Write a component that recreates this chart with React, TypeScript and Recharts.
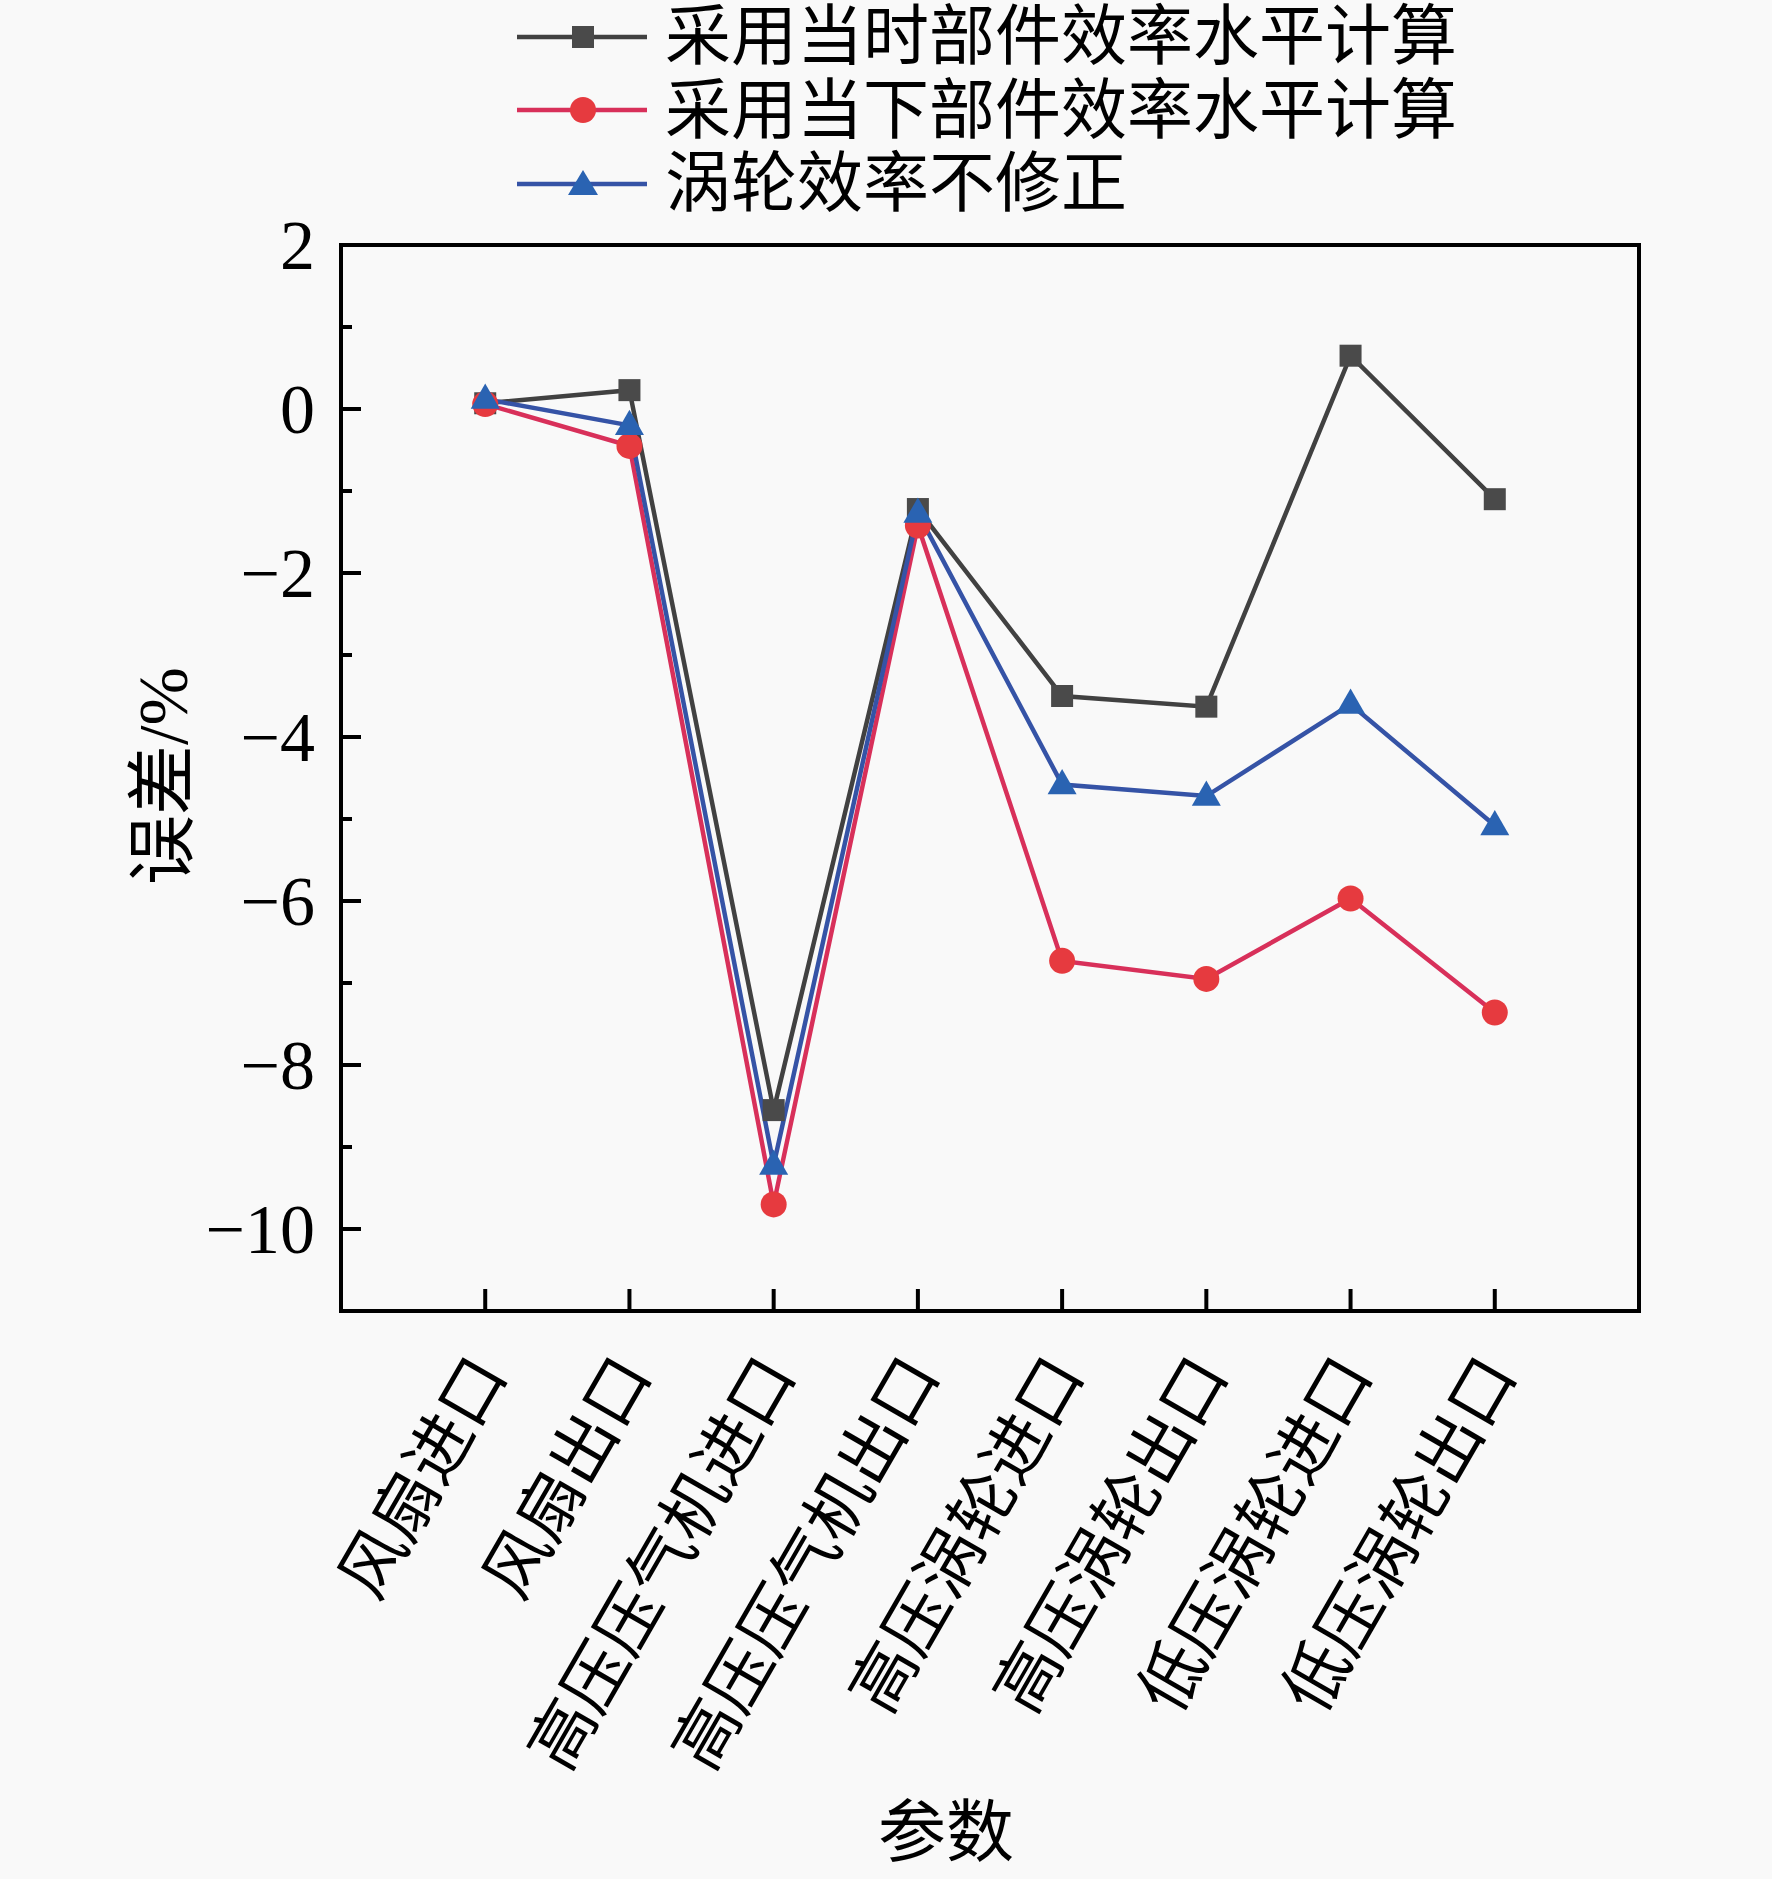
import React from 'react';
import { LineChart, Line, XAxis, YAxis, Legend, ReferenceArea } from 'recharts';

const CATEGORIES = ['风扇进口', '风扇出口', '高压压气机进口', '高压压气机出口', '高压涡轮进口', '高压涡轮出口', '低压涡轮进口', '低压涡轮出口'];
const CURRENT_LEVEL = [0.07, 0.23, -8.55, -1.22, -3.5, -3.63, 0.65, -1.1];
const PRESENT_LEVEL = [0.06, -0.45, -9.7, -1.42, -6.73, -6.95, -5.97, -7.36];
const NO_CORRECTION = [0.12, -0.2, -9.22, -1.27, -4.58, -4.72, -3.6, -5.08];
const SERIES_NAMES = ['采用当时部件效率水平计算', '采用当下部件效率水平计算', '涡轮效率不修正'];
const X_TICKS = [1, 2, 3, 4, 5, 6, 7, 8];
const Y_TICKS = [-11, -10, -9, -8, -7, -6, -5, -4, -3, -2, -1, 0, 1, 2];

const FONT = '"Liberation Serif", "Noto Sans CJK SC", serif';
const BG = '#f9f9f9';

const data = CATEGORIES.map((name, i) => ({
  x: i + 1,
  name,
  a: CURRENT_LEVEL[i],
  b: PRESENT_LEVEL[i],
  c: NO_CORRECTION[i],
}));

const COLORS = {
  a: { line: '#414141', fill: '#4a4a4a' },
  b: { line: '#d8305a', fill: '#e63a3f' },
  c: { line: '#3553a6', fill: '#2a63b2' },
};

const square = (fill: string, size = 22) => (props: any) => {
  const { cx, cy, index } = props;
  if (cx == null || cy == null) return <g key={`s-${index}`} />;
  return <rect key={`s-${index}`} x={cx - size / 2} y={cy - size / 2} width={size} height={size} fill={fill} />;
};

const circle = (fill: string, r = 13) => (props: any) => {
  const { cx, cy, index } = props;
  if (cx == null || cy == null) return <g key={`c-${index}`} />;
  return <circle key={`c-${index}`} cx={cx} cy={cy} r={r} fill={fill} />;
};

const triangle = (fill: string, s = 29) => (props: any) => {
  const { cx, cy, index } = props;
  if (cx == null || cy == null) return <g key={`t-${index}`} />;
  const h = s * 0.87;
  const pts = `${cx},${cy - h * 0.62} ${cx - s / 2},${cy + h * 0.38} ${cx + s / 2},${cy + h * 0.38}`;
  return <polygon key={`t-${index}`} points={pts} fill={fill} />;
};

const XTick = (props: any) => {
  const { x, y, payload } = props;
  const label = CATEGORIES[payload.value - 1] ?? '';
  const ty = y + 52;
  return (
    <g>
      <line x1={x} y1={y} x2={x} y2={y - 22} stroke="#000" strokeWidth={4} />
      <text
        x={x + 4}
        y={ty}
        transform={`rotate(-60, ${x + 4}, ${ty})`}
        textAnchor="end"
        dominantBaseline="central"
        fontSize={66}
        fontFamily={FONT}
        fill="#000"
      >
        {label}
      </text>
    </g>
  );
};

const YTick = (props: any) => {
  const { x, y, payload } = props;
  const v = payload.value;
  const major = v % 2 === 0;
  if (v === -11) return <g />;
  const txt = v < 0 ? `\u2212${Math.abs(v)}` : `${v}`;
  return (
    <g>
      <line x1={x} y1={y} x2={x + (major ? 20 : 11)} y2={y} stroke="#000" strokeWidth={4} />
      {major && (
        <text x={x - 26} y={y} textAnchor="end" dominantBaseline="central" fontSize={70} fontFamily={FONT} fill="#000">
          {txt}
        </text>
      )}
    </g>
  );
};

const LegendIcon = ({ k }: { k: 'a' | 'b' | 'c' }) => {
  const c = COLORS[k];
  return (
    <svg width={130} height={40} style={{ display: 'block' }}>
      <line x1={0} y1={20} x2={130} y2={20} stroke={c.line} strokeWidth={4.5} />
      {k === 'a' && <rect x={55} y={9} width={22} height={22} fill={c.fill} />}
      {k === 'b' && <circle cx={66} cy={20} r={13} fill={c.fill} />}
      {k === 'c' && <polygon points="66,6 51,31 81,31" fill={c.fill} />}
    </svg>
  );
};

const renderLegend = () => (
  <div style={{ fontFamily: FONT, fontSize: 66, color: '#000' }}>
    {(['a', 'b', 'c'] as const).map((k, i) => (
      <div key={k} style={{ display: 'flex', alignItems: 'center', height: 73.5, whiteSpace: 'nowrap' }}>
        <LegendIcon k={k} />
        <span style={{ marginLeft: 18, lineHeight: '73.5px' }}>{SERIES_NAMES[i]}</span>
      </div>
    ))}
  </div>
);

export default function App() {
  return (
    <div style={{ width: 1772, height: 1879, background: BG, position: 'relative' }}>
      <style>{`body{margin:0;background:${BG};}`}</style>
      <LineChart width={1772} height={1879} data={data} margin={{ top: 245, right: 133, left: 0, bottom: 0 }}>
        <XAxis
          dataKey="x"
          type="number"
          domain={[0, 9]}
          ticks={X_TICKS}
          interval={0}
          height={568}
          tickSize={0}
          tickMargin={0}
          tickLine={false}
          tick={<XTick />}
          axisLine={{ stroke: '#000', strokeWidth: 4 }}
          allowDataOverflow
        />
        <YAxis
          type="number"
          domain={[-11, 2]}
          ticks={Y_TICKS}
          interval={0}
          width={341}
          tickSize={0}
          tickMargin={0}
          tickLine={false}
          tick={<YTick />}
          axisLine={{ stroke: '#000', strokeWidth: 4 }}
          allowDataOverflow
        />
        <ReferenceArea x1={0} x2={9} y1={-11} y2={2} fill="none" stroke="#000" strokeWidth={4} ifOverflow="visible" />
        <Legend
          layout="vertical"
          align="center"
          verticalAlign="middle"
          content={renderLegend}
          wrapperStyle={{ top: 0, left: 517, width: 1200, height: 225 }}
        />
        <Line dataKey="a" name={SERIES_NAMES[0]} stroke={COLORS.a.line} strokeWidth={4.5} dot={square(COLORS.a.fill)} activeDot={false} isAnimationActive={false} />
        <Line dataKey="b" name={SERIES_NAMES[1]} stroke={COLORS.b.line} strokeWidth={4.5} dot={circle(COLORS.b.fill)} activeDot={false} isAnimationActive={false} />
        <Line dataKey="c" name={SERIES_NAMES[2]} stroke={COLORS.c.line} strokeWidth={4.5} dot={triangle(COLORS.c.fill)} activeDot={false} isAnimationActive={false} />
      </LineChart>
      <div
        style={{
          position: 'absolute',
          left: 164,
          top: 776,
          transform: 'translate(-50%, -50%) rotate(-90deg)',
          fontFamily: FONT,
          fontSize: 70,
          whiteSpace: 'nowrap',
          lineHeight: 1,
        }}
      >
        误差/%
      </div>
      <div
        style={{
          position: 'absolute',
          left: 946,
          top: 1833,
          transform: 'translate(-50%, -50%)',
          fontFamily: FONT,
          fontSize: 68,
          whiteSpace: 'nowrap',
          lineHeight: 1,
        }}
      >
        参数
      </div>
    </div>
  );
}
